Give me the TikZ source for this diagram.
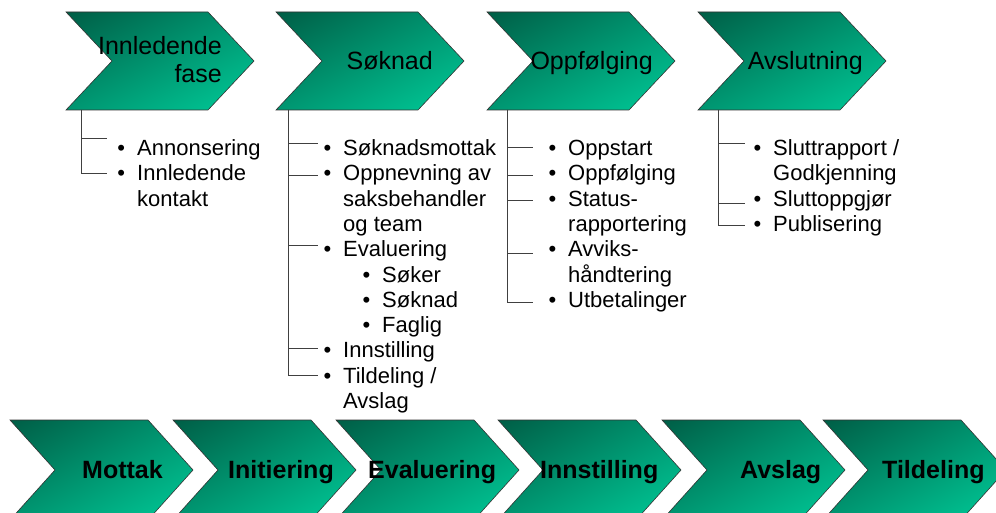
\documentclass[tikz,border=0pt]{standalone}
\usepackage{fontspec}
\usetikzlibrary{shadings}
\setmainfont{Liberation Sans}
\definecolor{gdark}{RGB}{0,94,70}
\definecolor{gmid}{RGB}{0,150,113}
\definecolor{glight}{RGB}{0,204,153}
\newcommand\bul{\llap{\textbullet\hspace{12pt}}}
\newcommand\drawchev[5]{%
  \path[chevfill] (#1,#2) -- ++(#3,0) -- ++(#4,#5) -- ++(-#4,#5) -- ++(-#3,0) -- ++(#4,-#5) -- cycle;}
\tikzset{
  chevfill/.style={draw=black!80, line width=0.6pt, upper left=gdark, upper right=gmid, lower left=gmid, lower right=glight},
  toplabel/.style={anchor=base east, inner sep=0pt, font=\fontsize{25}{28}\selectfont},
  botlabel/.style={anchor=base west, inner sep=0pt, font=\fontsize{25}{28}\selectfont\bfseries},
  item/.style={anchor=base west, inner sep=0pt, font=\fontsize{22}{25.3}\selectfont},
  treeline/.style={draw=black!75, line width=0.8pt}
}
\begin{document}
\begin{tikzpicture}[x=1pt,y=-1pt]
\useasboundingbox (0,0) rectangle (996,513);
\clip (0,0) rectangle (996,513);
% top chevrons
\drawchev{66}{12}{142}{46}{49}
\drawchev{276}{12}{142}{46}{49}
\drawchev{487}{12}{142}{46}{49}
\drawchev{698}{12}{142}{46}{49}
% bottom chevrons
\drawchev{10}{420}{138}{45}{50}
\drawchev{173}{420}{138}{45}{50}
\drawchev{336}{420}{138}{45}{50}
\drawchev{498}{420}{138}{45}{50}
\drawchev{662}{420}{138}{45}{50}
\drawchev{823}{420}{138}{45}{50}
% top labels
\node[toplabel] (h1a) at (222,55) {Innledende};
\node[toplabel] (h1b) at (222,83) {fase};
\node[toplabel] (h2) at (433,70) {Søknad};
\node[toplabel] (h3) at (653,70) {Oppfølging};
\node[toplabel] (h4) at (863,70) {Avslutning};
% bottom labels
\node[botlabel] (b1) at (82,478) {Mottak};
\node[botlabel] (b2) at (228,478) {Initiering};
\node[botlabel] (b3) at (368,478) {Evaluering};
\node[botlabel] (b4) at (540,478) {Innstilling};
\node[botlabel] (b5) at (740,478) {Avslag};
\node[botlabel] (b6) at (882,478) {Tildeling};
% tree roots and connector ends
\coordinate (r1) at (81,110);
\coordinate (r2) at (288,110);
\coordinate (r3) at (507,110);
\coordinate (r4) at (718,110);
\coordinate (e1a) at (107,138);
\coordinate (e1b) at (107,173);
\coordinate (e2a) at (318,143);
\coordinate (e2b) at (318,175);
\coordinate (e2c) at (318,245);
\coordinate (e2d) at (318,348);
\coordinate (e2e) at (318,375);
\coordinate (e3a) at (533,147);
\coordinate (e3b) at (533,175);
\coordinate (e3c) at (533,200);
\coordinate (e3d) at (533,253);
\coordinate (e3e) at (533,302);
\coordinate (e4a) at (745,143);
\coordinate (e4b) at (745,203);
\coordinate (e4c) at (745,225);
\foreach \e in {e1a,e1b} \draw[treeline] (r1) |- (\e);
\foreach \e in {e2a,e2b,e2c,e2d,e2e} \draw[treeline] (r2) |- (\e);
\foreach \e in {e3a,e3b,e3c,e3d,e3e} \draw[treeline] (r3) |- (\e);
\foreach \e in {e4a,e4b,e4c} \draw[treeline] (r4) |- (\e);
% tree 1 items
\node[item] (t1a) at (137,155.5) {\bul Annonsering};
\node[item] (t1b) at (137,180.8) {\bul Innledende};
\node[item] (t1c) at (137,206.1) {kontakt};
% tree 2 items
\node[item] (t2a) at (343,155.5) {\bul Søknadsmottak};
\node[item] (t2b) at (343,180.8) {\bul Oppnevning av};
\node[item] (t2c) at (343,206.1) {saksbehandler};
\node[item] (t2d) at (343,231.4) {og team};
\node[item] (t2e) at (343,256.7) {\bul Evaluering};
\node[item] (t2f) at (382,282.0) {\bul Søker};
\node[item] (t2g) at (382,307.3) {\bul Søknad};
\node[item] (t2h) at (382,332.6) {\bul Faglig};
\node[item] (t2i) at (343,357.9) {\bul Innstilling};
\node[item] (t2j) at (343,383.2) {\bul Tildeling /};
\node[item] (t2k) at (343,408.5) {Avslag};
% tree 3 items
\node[item] (t3a) at (568,155.5) {\bul Oppstart};
\node[item] (t3b) at (568,180.8) {\bul Oppfølging};
\node[item] (t3c) at (568,206.1) {\bul Status-};
\node[item] (t3d) at (568,231.4) {rapportering};
\node[item] (t3e) at (568,256.7) {\bul Avviks-};
\node[item] (t3f) at (568,282.0) {håndtering};
\node[item] (t3g) at (568,307.3) {\bul Utbetalinger};
% tree 4 items
\node[item] (t4a) at (773,155.5) {\bul Sluttrapport /};
\node[item] (t4b) at (773,180.8) {Godkjenning};
\node[item] (t4c) at (773,206.1) {\bul Sluttoppgjør};
\node[item] (t4d) at (773,231.4) {\bul Publisering};
\end{tikzpicture}
\end{document}
